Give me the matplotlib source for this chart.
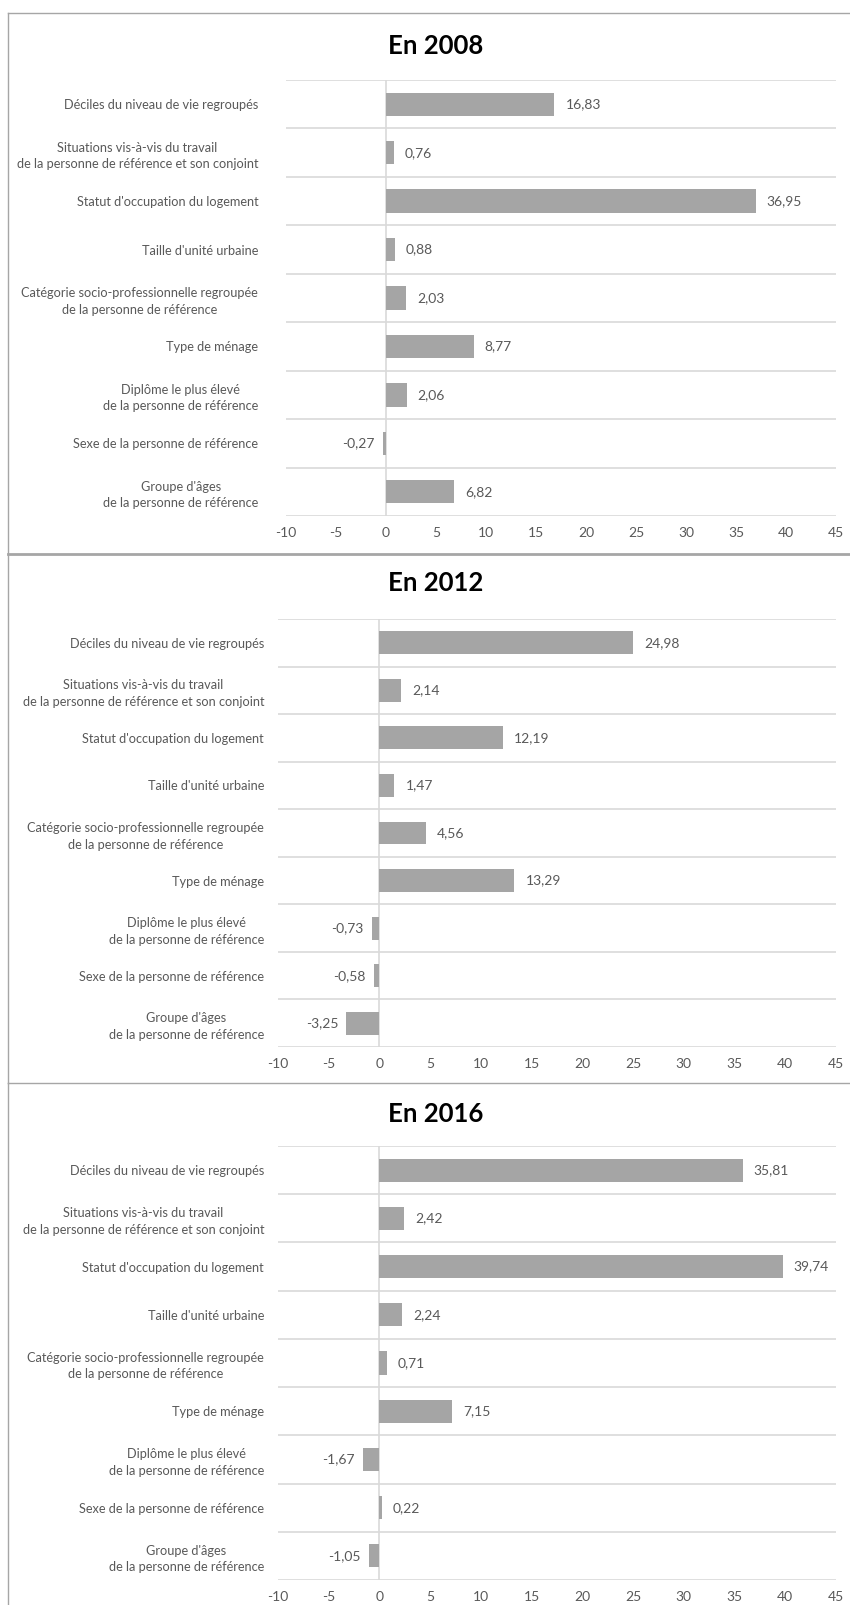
import matplotlib
matplotlib.use("Agg")
import matplotlib.pyplot as plt
from matplotlib.lines import Line2D

plt.rcParams['font.family'] = ['Lato', 'DejaVu Sans']

categories = [
    "Déciles du niveau de vie regroupés",
    "Situations vis-à-vis du travail\nde la personne de référence et son conjoint",
    "Statut d'occupation du logement",
    "Taille d'unité urbaine",
    "Catégorie socio-professionnelle regroupée\nde la personne de référence",
    "Type de ménage",
    "Diplôme le plus élevé\nde la personne de référence",
    "Sexe de la personne de référence",
    "Groupe d'âges\nde la personne de référence",
]
values_2008 = [16.83, 0.76, 36.95, 0.88, 2.03, 8.77, 2.06, -0.27, 6.82]
values_2012 = [24.98, 2.14, 12.19, 1.47, 4.56, 13.29, -0.73, -0.58, -3.25]
values_2016 = [35.81, 2.42, 39.74, 2.24, 0.71, 7.15, -1.67, 0.22, -1.05]
titles = ["En 2008", "En 2012", "En 2016"]
x_ticks = [-10, -5, 0, 5, 10, 15, 20, 25, 30, 35, 40, 45]

W, H = 850, 1605
fig = plt.figure(figsize=(W / 100, H / 100), dpi=100)

BAR = '#a5a5a5'
GRID = '#d9d9d9'
TXT = '#595959'
BORDER = '#a6a6a6'


def rect(l, r, t, b):
    return [l / W, 1 - b / H, (r - l) / W, (b - t) / H]


def fx(x):
    return x / W


def fy(y):
    return 1 - y / H


# panel geometry: (plot left, plot right, plot top, plot bottom, title y, label pad pt)
panels = [
    (286, 836, 80, 516, 46, 20),
    (278, 836, 619, 1047, 583, 10),
    (278, 836, 1146, 1580, 1114, 10),
]
all_values = [values_2008, values_2012, values_2016]

for (l, r, t, b, ty, pad), vals, title in zip(panels, all_values, titles):
    ax = fig.add_axes(rect(l, r, t, b))
    ypos = list(range(len(categories)))
    ax.barh(ypos, vals, height=0.48, color=BAR, zorder=3)
    ax.set_xlim(-10, 45)
    ax.set_ylim(len(categories) - 0.5, -0.5)
    for k in range(len(categories) + 1):
        ax.axhline(k - 0.5, color=GRID, lw=1.2, zorder=1)
    ax.axvline(0, color=GRID, lw=1.2, zorder=2)
    for s in ax.spines.values():
        s.set_visible(False)
    ax.set_xticks(x_ticks)
    ax.set_xticklabels([str(v) for v in x_ticks])
    ax.tick_params(axis='x', length=0, pad=8, labelsize=10, labelcolor=TXT)
    ax.set_yticks(ypos)
    ax.set_yticklabels(categories)
    ax.tick_params(axis='y', length=0, pad=pad, labelsize=9.2, labelcolor=TXT)
    for lab in ax.get_yticklabels():
        lab.set_multialignment('center')
        lab.set_linespacing(1.45)
    for yv, v in zip(ypos, vals):
        txt = f"{v:.2f}".replace('.', ',')
        if v >= 0:
            ax.annotate(txt, (v, yv), xytext=(8, 0), textcoords='offset points',
                        ha='left', va='center', fontsize=10, color=TXT)
        else:
            ax.annotate(txt, (v, yv), xytext=(-6, 0), textcoords='offset points',
                        ha='right', va='center', fontsize=10, color=TXT)
    fig.text(fx(436), fy(ty), title, ha='center', va='center',
             fontsize=18.5, fontweight='bold', color='black')

# panel borders
lines = [
    ((8, 850), (13, 13), 1.0),
    ((8, 8), (13, 554), 1.0),
    ((8, 850), (554, 554), 2.0),
    ((8, 8), (554, 1083), 1.0),
    ((8, 850), (1083, 1083), 1.0),
    ((8, 8), (1083, 1605), 1.0),
]
for xs, ys, lw in lines:
    fig.add_artist(Line2D([fx(xs[0]), fx(xs[1])], [fy(ys[0]), fy(ys[1])],
                          color=BORDER, lw=lw))

fig.savefig("out.png", dpi=100)
